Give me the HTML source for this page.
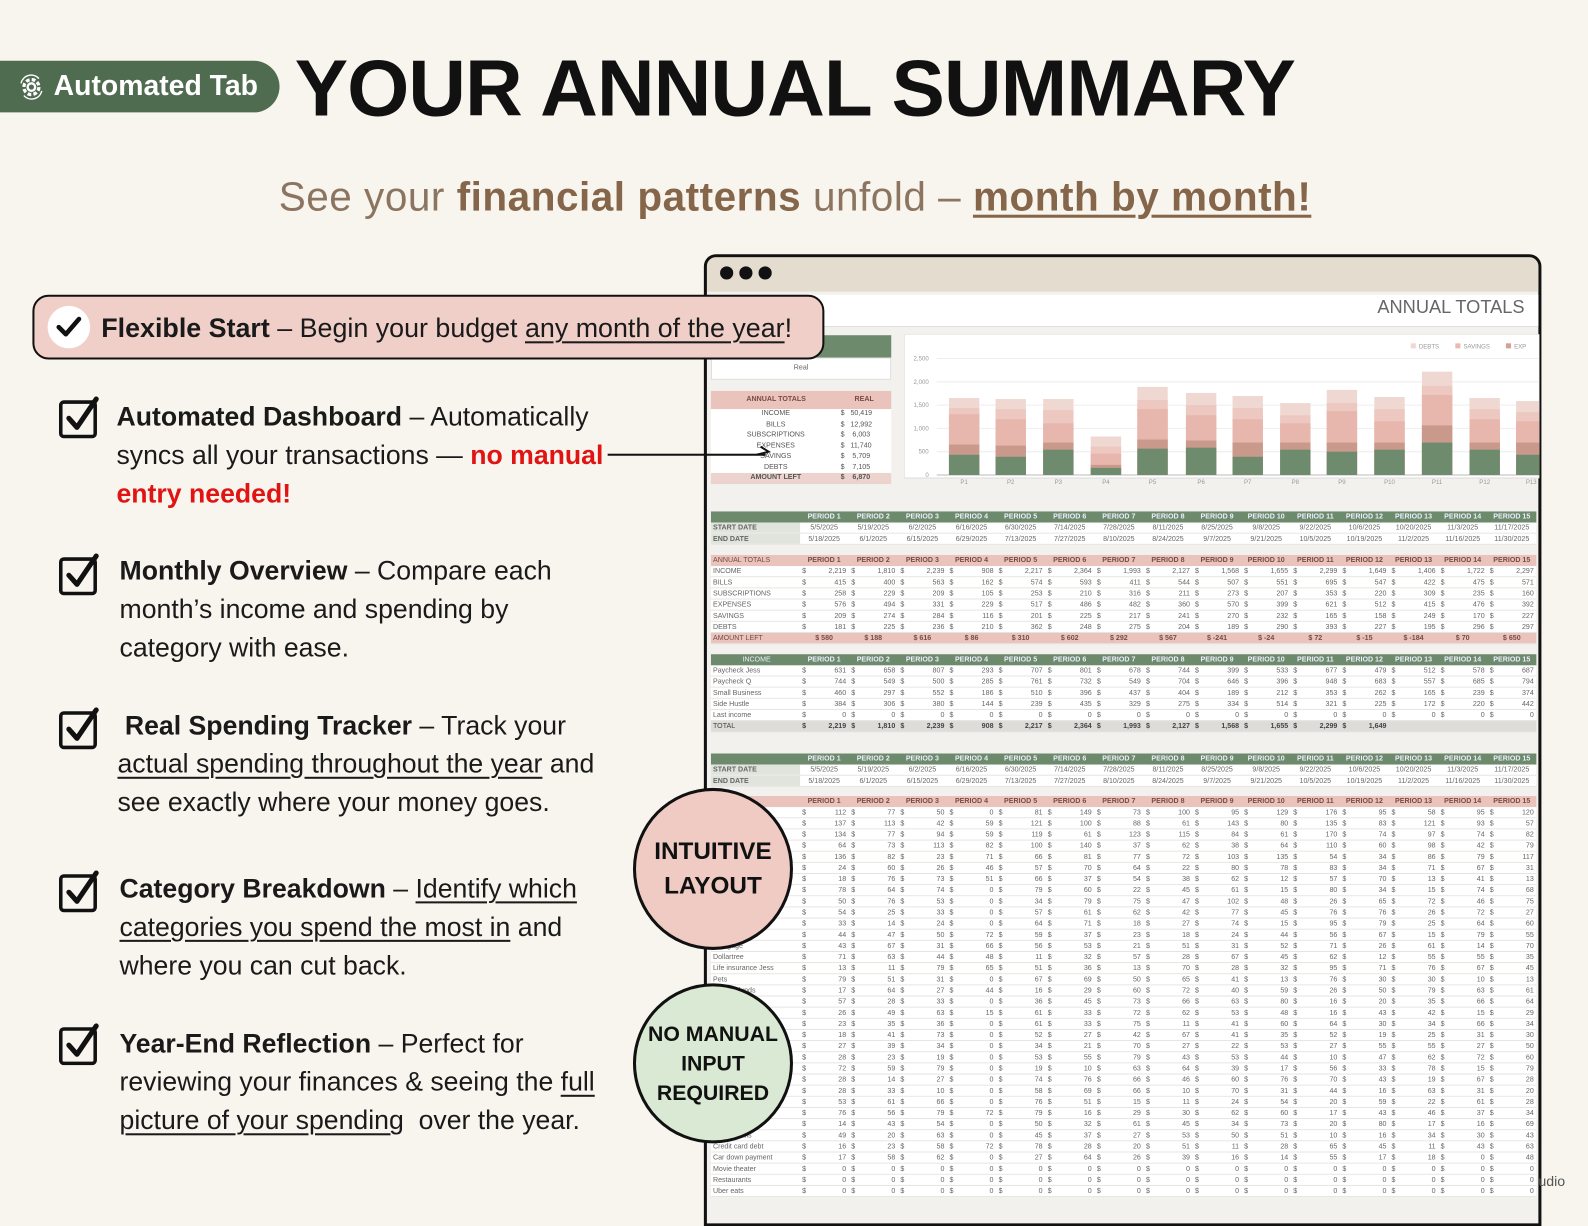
<!DOCTYPE html>
<html><head><meta charset="utf-8">
<style>
*{margin:0;padding:0;box-sizing:border-box}
body{width:1588px;height:1191px;overflow:hidden;background:#f8f5ee;font-family:"Liberation Sans",sans-serif;position:relative;color:#111}
#w{position:absolute;left:0;top:0;width:1568px;height:1176px;transform:scale(1.01276);transform-origin:0 0}
.a{position:absolute;white-space:nowrap}
.ft{font-size:26.3px;line-height:38px;color:#1a1a1a}
.ft b{font-weight:700}
.u{text-decoration:underline;text-decoration-thickness:2px;text-underline-offset:4px}
.row{position:absolute;left:702px;width:815px;height:11px;display:flex;font-size:7px;line-height:11px;color:#666;border-bottom:1px solid #e6e4e0;background:#fff}
.row b{width:88px;font-weight:400;padding-left:2px;overflow:hidden;flex:none}
.row span{width:48.5px;flex:none;display:flex;justify-content:space-between;padding:0 3px 0 2px}
.row span:before{content:"$"}
.row.d span{justify-content:center}
.row.d span:before{content:""}
.row.g{background:#6d8a6c;color:#eef;font-weight:700;border:none}
.row.g span,.row.p span,.row.h span{justify-content:center}
.row.g span:before,.row.p span:before,.row.h span:before{content:""}
.row.p{background:#e9c3bc;color:#7a4b43;font-weight:700;border:none}
.row.h{background:#e9c3bc;color:#7a4b43;font-weight:700}
.row.t{background:#dcdcd8;font-weight:700;color:#444}
.row.l b{background:#dfe4dc;font-weight:700}
.chk{position:absolute;width:40px;height:42px}
</style></head><body><div id="w">

<!-- badge + title -->
<div class="a" style="left:0;top:60px;width:276px;height:51px;background:#4f6b50;border-radius:0 26px 26px 0"></div>
<svg class="a" style="left:18px;top:73px" width="26" height="26" viewBox="0 0 28 28"><circle cx="14" cy="14" r="8" fill="none" stroke="#fff" stroke-width="3.5" stroke-dasharray="4 2.3"/><circle cx="14" cy="14" r="4" fill="none" stroke="#fff" stroke-width="2.5"/><path d="M3 10 A11 11 0 0 1 22 5 M25 18 A11 11 0 0 1 6 23" fill="none" stroke="#fff" stroke-width="1.5"/></svg>
<div class="a" style="left:53px;top:69px;font-size:28px;font-weight:700;color:#fff">Automated Tab</div>
<div class="a" style="left:291px;top:41px;font-size:79px;font-weight:700;color:#111;letter-spacing:-1px">YOUR ANNUAL SUMMARY</div>

<div class="a" style="left:200px;top:173px;width:1170px;text-align:center;font-size:40px;letter-spacing:0.5px;color:#8c7560">See your <b style="color:#85664a">financial patterns</b> unfold – <b class="u" style="color:#85664a;text-decoration-thickness:3px">month by month!</b></div>

<!-- window -->
<div class="a" style="left:695px;top:251px;width:827px;height:960px;border:3px solid #111;border-radius:12px 12px 0 0;background:#f3f1ed;overflow:hidden">
  <div style="height:34px;background:#e5dcd0"></div>
</div>
<div class="a" style="left:711px;top:263px;width:13px;height:13px;border-radius:50%;background:#111"></div>
<div class="a" style="left:730px;top:263px;width:13px;height:13px;border-radius:50%;background:#111"></div>
<div class="a" style="left:749px;top:263px;width:13px;height:13px;border-radius:50%;background:#111"></div>
<div class="a" style="left:702px;top:291px;width:817px;height:32px;background:#fff;border-bottom:1px solid #ddd"></div>
<div class="a" style="left:1360px;top:293px;font-size:18px;color:#666">ANNUAL TOTALS</div>

<!-- left mini table -->
<div class="a" style="left:702px;top:331px;width:178px;height:22px;background:#6d8a6c"></div>
<div class="a" style="left:702px;top:353px;width:178px;height:22px;background:#fff;border:1px solid #ddd;font-size:7px;color:#666;text-align:center;line-height:20px">Real</div>
<div class="a" style="left:702px;top:386px;width:178px;height:18px;background:#e9c3bc;font-size:7px;font-weight:700;color:#7a4b43;line-height:18px"><span style="margin-left:35px">ANNUAL TOTALS</span><span style="margin-left:48px">REAL</span></div>
<div class="a" style="left:702px;top:404px;width:178px;height:72px;background:#fff;font-size:7px;color:#555;line-height:10.5px">
<div style="display:flex"><span style="width:128px;text-align:center">INCOME</span><span style="width:50px">$&nbsp;&nbsp;&nbsp;50,419</span></div>
<div style="display:flex"><span style="width:128px;text-align:center">BILLS</span><span>$&nbsp;&nbsp;&nbsp;12,992</span></div>
<div style="display:flex"><span style="width:128px;text-align:center">SUBSCRIPTIONS</span><span>$&nbsp;&nbsp;&nbsp;&nbsp;6,003</span></div>
<div style="display:flex"><span style="width:128px;text-align:center">EXPENSES</span><span>$&nbsp;&nbsp;&nbsp;11,740</span></div>
<div style="display:flex"><span style="width:128px;text-align:center">SAVINGS</span><span>$&nbsp;&nbsp;&nbsp;&nbsp;5,709</span></div>
<div style="display:flex"><span style="width:128px;text-align:center">DEBTS</span><span>$&nbsp;&nbsp;&nbsp;&nbsp;7,105</span></div>
<div style="display:flex;background:#ecd3ce;font-weight:700"><span style="width:128px;text-align:center">AMOUNT LEFT</span><span>$&nbsp;&nbsp;&nbsp;&nbsp;6,870</span></div>
</div>

<!-- chart -->
<svg class="a" style="left:893px;top:330px" width="627" height="150" viewBox="893 330 627 150">
<rect x="893" y="330" width="627" height="142" fill="#fff" stroke="#ddd"/>
<g stroke="#eee"><line x1="925" x2="1520" y1="354" y2="354"/><line x1="925" x2="1520" y1="377" y2="377"/><line x1="925" x2="1520" y1="400" y2="400"/><line x1="925" x2="1520" y1="423" y2="423"/><line x1="925" x2="1520" y1="446" y2="446"/></g>
<line x1="925" x2="1520" y1="469" y2="469" stroke="#bbb"/>
<g font-size="6" fill="#999" text-anchor="end" font-family="Liberation Sans"><text x="917" y="356">2,500</text><text x="917" y="379">2,000</text><text x="917" y="402">1,500</text><text x="917" y="425">1,000</text><text x="917" y="448">500</text><text x="917" y="471">0</text></g>
<g font-size="6" fill="#999" font-family="Liberation Sans"><rect x="1393" y="339" width="5" height="5" fill="#f0d8d2"/><text x="1401" y="344">DEBTS</text><rect x="1437" y="339" width="5" height="5" fill="#eab9b0"/><text x="1445" y="344">SAVINGS</text><rect x="1487" y="339" width="5" height="5" fill="#d99f95"/><text x="1495" y="344">EXP</text></g>
<g font-family="Liberation Sans" font-size="6" fill="#999" text-anchor="middle">
<text x="952" y="478">P1</text><text x="998" y="478">P2</text><text x="1045" y="478">P3</text><text x="1092" y="478">P4</text><text x="1138" y="478">P5</text><text x="1186" y="478">P6</text><text x="1232" y="478">P7</text><text x="1279" y="478">P8</text><text x="1325" y="478">P9</text><text x="1372" y="478">P10</text><text x="1419" y="478">P11</text><text x="1466" y="478">P12</text><text x="1512" y="478">P13</text></g>
<g>
<rect x="937" y="393" width="30" height="76" fill="#f0d8d2"/><rect x="937" y="403" width="30" height="66" fill="#ecc8c1"/><rect x="937" y="409" width="30" height="60" fill="#e7b6ad"/><rect x="937" y="439" width="30" height="30" fill="#c99a8c"/><rect x="937" y="449" width="30" height="20" fill="#6f8b6e"/>
<rect x="983" y="394" width="30" height="75" fill="#f0d8d2"/><rect x="983" y="404" width="30" height="65" fill="#ecc8c1"/><rect x="983" y="414" width="30" height="55" fill="#e7b6ad"/><rect x="983" y="440" width="30" height="29" fill="#c99a8c"/><rect x="983" y="451" width="30" height="18" fill="#6f8b6e"/>
<rect x="1030" y="394" width="30" height="75" fill="#f0d8d2"/><rect x="1030" y="405" width="30" height="64" fill="#ecc8c1"/><rect x="1030" y="418" width="30" height="51" fill="#e7b6ad"/><rect x="1030" y="437" width="30" height="32" fill="#c99a8c"/><rect x="1030" y="444" width="30" height="25" fill="#6f8b6e"/>
<rect x="1077" y="431" width="30" height="38" fill="#f0d8d2"/><rect x="1077" y="441" width="30" height="28" fill="#ecc8c1"/><rect x="1077" y="448" width="30" height="21" fill="#e7b6ad"/><rect x="1077" y="459" width="30" height="10" fill="#c99a8c"/><rect x="1077" y="462" width="30" height="7" fill="#6f8b6e"/>
<rect x="1123" y="382" width="30" height="87" fill="#f0d8d2"/><rect x="1123" y="395" width="30" height="74" fill="#ecc8c1"/><rect x="1123" y="404" width="30" height="65" fill="#e7b6ad"/><rect x="1123" y="434" width="30" height="35" fill="#c99a8c"/><rect x="1123" y="443" width="30" height="26" fill="#6f8b6e"/>
<rect x="1171" y="388" width="30" height="81" fill="#f0d8d2"/><rect x="1171" y="400" width="30" height="69" fill="#ecc8c1"/><rect x="1171" y="410" width="30" height="59" fill="#e7b6ad"/><rect x="1171" y="435" width="30" height="34" fill="#c99a8c"/><rect x="1171" y="442" width="30" height="27" fill="#6f8b6e"/>
<rect x="1217" y="391" width="30" height="78" fill="#f0d8d2"/><rect x="1217" y="403" width="30" height="66" fill="#ecc8c1"/><rect x="1217" y="414" width="30" height="55" fill="#e7b6ad"/><rect x="1217" y="437" width="30" height="32" fill="#c99a8c"/><rect x="1217" y="451" width="30" height="18" fill="#6f8b6e"/>
<rect x="1264" y="398" width="30" height="71" fill="#f0d8d2"/><rect x="1264" y="410" width="30" height="59" fill="#ecc8c1"/><rect x="1264" y="418" width="30" height="51" fill="#e7b6ad"/><rect x="1264" y="437" width="30" height="32" fill="#c99a8c"/><rect x="1264" y="444" width="30" height="25" fill="#6f8b6e"/>
<rect x="1310" y="385" width="30" height="84" fill="#f0d8d2"/><rect x="1310" y="398" width="30" height="71" fill="#ecc8c1"/><rect x="1310" y="406" width="30" height="63" fill="#e7b6ad"/><rect x="1310" y="437" width="30" height="32" fill="#c99a8c"/><rect x="1310" y="446" width="30" height="23" fill="#6f8b6e"/>
<rect x="1357" y="392" width="30" height="77" fill="#f0d8d2"/><rect x="1357" y="404" width="30" height="65" fill="#ecc8c1"/><rect x="1357" y="416" width="30" height="53" fill="#e7b6ad"/><rect x="1357" y="437" width="30" height="32" fill="#c99a8c"/><rect x="1357" y="444" width="30" height="25" fill="#6f8b6e"/>
<rect x="1404" y="367" width="30" height="102" fill="#f0d8d2"/><rect x="1404" y="381" width="30" height="88" fill="#ecc8c1"/><rect x="1404" y="390" width="30" height="79" fill="#e7b6ad"/><rect x="1404" y="420" width="30" height="49" fill="#c99a8c"/><rect x="1404" y="437" width="30" height="32" fill="#6f8b6e"/>
<rect x="1451" y="393" width="30" height="76" fill="#f0d8d2"/><rect x="1451" y="404" width="30" height="65" fill="#ecc8c1"/><rect x="1451" y="414" width="30" height="55" fill="#e7b6ad"/><rect x="1451" y="437" width="30" height="32" fill="#c99a8c"/><rect x="1451" y="444" width="30" height="25" fill="#6f8b6e"/>
<rect x="1497" y="396" width="23" height="73" fill="#f0d8d2"/><rect x="1497" y="407" width="23" height="62" fill="#ecc8c1"/><rect x="1497" y="416" width="23" height="53" fill="#e7b6ad"/><rect x="1497" y="437" width="23" height="32" fill="#c99a8c"/><rect x="1497" y="449" width="23" height="20" fill="#6f8b6e"/>
</g></svg>

<!-- Section 1 -->
<div class="row g" style="top:505px"><b></b><span>PERIOD 1</span><span>PERIOD 2</span><span>PERIOD 3</span><span>PERIOD 4</span><span>PERIOD 5</span><span>PERIOD 6</span><span>PERIOD 7</span><span>PERIOD 8</span><span>PERIOD 9</span><span>PERIOD 10</span><span>PERIOD 11</span><span>PERIOD 12</span><span>PERIOD 13</span><span>PERIOD 14</span><span>PERIOD 15</span></div>
<div class="row d l" style="top:516px"><b>START DATE</b><span>5/5/2025</span><span>5/19/2025</span><span>6/2/2025</span><span>6/16/2025</span><span>6/30/2025</span><span>7/14/2025</span><span>7/28/2025</span><span>8/11/2025</span><span>8/25/2025</span><span>9/8/2025</span><span>9/22/2025</span><span>10/6/2025</span><span>10/20/2025</span><span>11/3/2025</span><span>11/17/2025</span></div>
<div class="row d l" style="top:527px"><b>END DATE</b><span>5/18/2025</span><span>6/1/2025</span><span>6/15/2025</span><span>6/29/2025</span><span>7/13/2025</span><span>7/27/2025</span><span>8/10/2025</span><span>8/24/2025</span><span>9/7/2025</span><span>9/21/2025</span><span>10/5/2025</span><span>10/19/2025</span><span>11/2/2025</span><span>11/16/2025</span><span>11/30/2025</span></div>

<!-- Section 2 -->
<div class="row p" style="top:548px"><b>ANNUAL TOTALS</b><span>PERIOD 1</span><span>PERIOD 2</span><span>PERIOD 3</span><span>PERIOD 4</span><span>PERIOD 5</span><span>PERIOD 6</span><span>PERIOD 7</span><span>PERIOD 8</span><span>PERIOD 9</span><span>PERIOD 10</span><span>PERIOD 11</span><span>PERIOD 12</span><span>PERIOD 13</span><span>PERIOD 14</span><span>PERIOD 15</span></div>
<div class="row" style="top:559px"><b>INCOME</b><span>2,219</span><span>1,810</span><span>2,239</span><span>908</span><span>2,217</span><span>2,364</span><span>1,993</span><span>2,127</span><span>1,568</span><span>1,655</span><span>2,299</span><span>1,649</span><span>1,406</span><span>1,722</span><span>2,297</span></div>
<div class="row" style="top:570px"><b>BILLS</b><span>415</span><span>400</span><span>563</span><span>162</span><span>574</span><span>593</span><span>411</span><span>544</span><span>507</span><span>551</span><span>695</span><span>547</span><span>422</span><span>475</span><span>571</span></div>
<div class="row" style="top:581px"><b>SUBSCRIPTIONS</b><span>258</span><span>229</span><span>209</span><span>105</span><span>253</span><span>210</span><span>316</span><span>211</span><span>273</span><span>207</span><span>353</span><span>220</span><span>309</span><span>235</span><span>160</span></div>
<div class="row" style="top:592px"><b>EXPENSES</b><span>576</span><span>494</span><span>331</span><span>229</span><span>517</span><span>486</span><span>482</span><span>360</span><span>570</span><span>399</span><span>621</span><span>512</span><span>415</span><span>476</span><span>392</span></div>
<div class="row" style="top:603px"><b>SAVINGS</b><span>209</span><span>274</span><span>284</span><span>116</span><span>201</span><span>225</span><span>217</span><span>241</span><span>270</span><span>232</span><span>165</span><span>158</span><span>249</span><span>170</span><span>227</span></div>
<div class="row" style="top:614px"><b>DEBTS</b><span>181</span><span>225</span><span>236</span><span>210</span><span>362</span><span>248</span><span>275</span><span>204</span><span>189</span><span>290</span><span>393</span><span>227</span><span>195</span><span>296</span><span>297</span></div>
<div class="row h" style="top:625px"><b>AMOUNT LEFT</b><span>$ 580</span><span>$ 188</span><span>$ 616</span><span>$ 86</span><span>$ 310</span><span>$ 602</span><span>$ 292</span><span>$ 567</span><span>$ -241</span><span>$ -24</span><span>$ 72</span><span>$ -15</span><span>$ -184</span><span>$ 70</span><span>$ 650</span></div>

<!-- Section 3 -->
<div class="row g" style="top:646px"><b style="text-align:center">INCOME</b><span>PERIOD 1</span><span>PERIOD 2</span><span>PERIOD 3</span><span>PERIOD 4</span><span>PERIOD 5</span><span>PERIOD 6</span><span>PERIOD 7</span><span>PERIOD 8</span><span>PERIOD 9</span><span>PERIOD 10</span><span>PERIOD 11</span><span>PERIOD 12</span><span>PERIOD 13</span><span>PERIOD 14</span><span>PERIOD 15</span></div>
<div class="row" style="top:657px"><b>Paycheck Jess</b><span>631</span><span>658</span><span>807</span><span>293</span><span>707</span><span>801</span><span>678</span><span>744</span><span>399</span><span>533</span><span>677</span><span>479</span><span>512</span><span>578</span><span>687</span></div>
<div class="row" style="top:668px"><b>Paycheck Q</b><span>744</span><span>549</span><span>500</span><span>285</span><span>761</span><span>732</span><span>549</span><span>704</span><span>646</span><span>396</span><span>948</span><span>683</span><span>557</span><span>685</span><span>794</span></div>
<div class="row" style="top:679px"><b>Small Business</b><span>460</span><span>297</span><span>552</span><span>186</span><span>510</span><span>396</span><span>437</span><span>404</span><span>189</span><span>212</span><span>353</span><span>262</span><span>165</span><span>239</span><span>374</span></div>
<div class="row" style="top:690px"><b>Side Hustle</b><span>384</span><span>306</span><span>380</span><span>144</span><span>239</span><span>435</span><span>329</span><span>275</span><span>334</span><span>514</span><span>321</span><span>225</span><span>172</span><span>220</span><span>442</span></div>
<div class="row" style="top:701px"><b>Last income</b><span>0</span><span>0</span><span>0</span><span>0</span><span>0</span><span>0</span><span>0</span><span>0</span><span>0</span><span>0</span><span>0</span><span>0</span><span>0</span><span>0</span><span>0</span></div>
<div class="row t" style="top:712px"><b>TOTAL</b><span>2,219</span><span>1,810</span><span>2,239</span><span>908</span><span>2,217</span><span>2,364</span><span>1,993</span><span>2,127</span><span>1,568</span><span>1,655</span><span>2,299</span><span>1,649</span></div>

<!-- Section 4 -->
<div class="row g" style="top:744px"><b></b><span>PERIOD 1</span><span>PERIOD 2</span><span>PERIOD 3</span><span>PERIOD 4</span><span>PERIOD 5</span><span>PERIOD 6</span><span>PERIOD 7</span><span>PERIOD 8</span><span>PERIOD 9</span><span>PERIOD 10</span><span>PERIOD 11</span><span>PERIOD 12</span><span>PERIOD 13</span><span>PERIOD 14</span><span>PERIOD 15</span></div>
<div class="row d l" style="top:755px"><b>START DATE</b><span>5/5/2025</span><span>5/19/2025</span><span>6/2/2025</span><span>6/16/2025</span><span>6/30/2025</span><span>7/14/2025</span><span>7/28/2025</span><span>8/11/2025</span><span>8/25/2025</span><span>9/8/2025</span><span>9/22/2025</span><span>10/6/2025</span><span>10/20/2025</span><span>11/3/2025</span><span>11/17/2025</span></div>
<div class="row d l" style="top:766px"><b>END DATE</b><span>5/18/2025</span><span>6/1/2025</span><span>6/15/2025</span><span>6/29/2025</span><span>7/13/2025</span><span>7/27/2025</span><span>8/10/2025</span><span>8/24/2025</span><span>9/7/2025</span><span>9/21/2025</span><span>10/5/2025</span><span>10/19/2025</span><span>11/2/2025</span><span>11/16/2025</span><span>11/30/2025</span></div>

<!-- Section 5 expenses -->
<div class="row p" style="top:786px"><b>EXPENSES</b><span>PERIOD 1</span><span>PERIOD 2</span><span>PERIOD 3</span><span>PERIOD 4</span><span>PERIOD 5</span><span>PERIOD 6</span><span>PERIOD 7</span><span>PERIOD 8</span><span>PERIOD 9</span><span>PERIOD 10</span><span>PERIOD 11</span><span>PERIOD 12</span><span>PERIOD 13</span><span>PERIOD 14</span><span>PERIOD 15</span></div>
<div class="row" style="top:797px"><b>Groceries</b><span>112</span><span>77</span><span>50</span><span>0</span><span>81</span><span>149</span><span>73</span><span>100</span><span>95</span><span>129</span><span>176</span><span>95</span><span>58</span><span>95</span><span>120</span></div>
<div class="row" style="top:808px"><b>Gas</b><span>137</span><span>113</span><span>42</span><span>59</span><span>121</span><span>100</span><span>88</span><span>61</span><span>143</span><span>80</span><span>135</span><span>83</span><span>121</span><span>93</span><span>57</span></div>
<div class="row" style="top:819px"><b>Dining</b><span>134</span><span>77</span><span>94</span><span>59</span><span>119</span><span>61</span><span>123</span><span>115</span><span>84</span><span>61</span><span>170</span><span>74</span><span>97</span><span>74</span><span>82</span></div>
<div class="row" style="top:830px"><b>Shopping</b><span>64</span><span>73</span><span>113</span><span>82</span><span>100</span><span>140</span><span>37</span><span>62</span><span>38</span><span>64</span><span>110</span><span>60</span><span>98</span><span>42</span><span>79</span></div>
<div class="row" style="top:841px"><b>Coffee</b><span>136</span><span>82</span><span>23</span><span>71</span><span>66</span><span>81</span><span>77</span><span>72</span><span>103</span><span>135</span><span>54</span><span>34</span><span>86</span><span>79</span><span>117</span></div>
<div class="row" style="top:852px"><b>Household</b><span>24</span><span>60</span><span>26</span><span>46</span><span>57</span><span>70</span><span>64</span><span>22</span><span>80</span><span>78</span><span>83</span><span>34</span><span>71</span><span>67</span><span>31</span></div>
<div class="row" style="top:863px"><b>Clothing</b><span>18</span><span>76</span><span>73</span><span>51</span><span>66</span><span>37</span><span>54</span><span>38</span><span>62</span><span>12</span><span>57</span><span>70</span><span>13</span><span>41</span><span>13</span></div>
<div class="row" style="top:874px"><b>Beauty</b><span>78</span><span>64</span><span>74</span><span>0</span><span>79</span><span>60</span><span>22</span><span>45</span><span>61</span><span>15</span><span>80</span><span>34</span><span>15</span><span>74</span><span>68</span></div>
<div class="row" style="top:885px"><b>Gifts</b><span>50</span><span>76</span><span>53</span><span>0</span><span>34</span><span>79</span><span>75</span><span>47</span><span>102</span><span>48</span><span>26</span><span>65</span><span>72</span><span>46</span><span>75</span></div>
<div class="row" style="top:896px"><b>Kids</b><span>54</span><span>25</span><span>33</span><span>0</span><span>57</span><span>61</span><span>62</span><span>42</span><span>77</span><span>45</span><span>76</span><span>76</span><span>26</span><span>72</span><span>27</span></div>
<div class="row" style="top:907px"><b>Health</b><span>33</span><span>14</span><span>24</span><span>0</span><span>64</span><span>71</span><span>18</span><span>27</span><span>74</span><span>15</span><span>95</span><span>79</span><span>25</span><span>64</span><span>60</span></div>
<div class="row" style="top:918px"><b>Car</b><span>44</span><span>47</span><span>50</span><span>72</span><span>59</span><span>37</span><span>23</span><span>18</span><span>24</span><span>44</span><span>56</span><span>67</span><span>15</span><span>79</span><span>55</span></div>
<div class="row" style="top:929px"><b>Mortgage</b><span>43</span><span>67</span><span>31</span><span>66</span><span>56</span><span>53</span><span>21</span><span>51</span><span>31</span><span>52</span><span>71</span><span>26</span><span>61</span><span>14</span><span>70</span></div>
<div class="row" style="top:940px"><b>Dollartree</b><span>71</span><span>63</span><span>44</span><span>48</span><span>11</span><span>32</span><span>57</span><span>28</span><span>67</span><span>45</span><span>62</span><span>12</span><span>55</span><span>55</span><span>35</span></div>
<div class="row" style="top:951px"><b>Life insurance Jess</b><span>13</span><span>11</span><span>79</span><span>65</span><span>51</span><span>36</span><span>13</span><span>70</span><span>28</span><span>32</span><span>95</span><span>71</span><span>76</span><span>67</span><span>45</span></div>
<div class="row" style="top:962px"><b>Pets</b><span>79</span><span>51</span><span>31</span><span>0</span><span>67</span><span>69</span><span>50</span><span>65</span><span>41</span><span>13</span><span>76</span><span>30</span><span>30</span><span>10</span><span>13</span></div>
<div class="row" style="top:973px"><b>Sinking funds</b><span>17</span><span>64</span><span>27</span><span>44</span><span>16</span><span>29</span><span>60</span><span>72</span><span>40</span><span>59</span><span>26</span><span>50</span><span>79</span><span>63</span><span>61</span></div>
<div class="row" style="top:984px"><b>Internet</b><span>57</span><span>28</span><span>33</span><span>0</span><span>36</span><span>45</span><span>73</span><span>66</span><span>63</span><span>80</span><span>16</span><span>20</span><span>35</span><span>66</span><span>64</span></div>
<div class="row" style="top:995px"><b>Phone</b><span>26</span><span>49</span><span>63</span><span>15</span><span>61</span><span>33</span><span>72</span><span>62</span><span>53</span><span>48</span><span>16</span><span>43</span><span>42</span><span>15</span><span>29</span></div>
<div class="row" style="top:1006px"><b>Electric</b><span>23</span><span>35</span><span>36</span><span>0</span><span>61</span><span>33</span><span>75</span><span>11</span><span>41</span><span>60</span><span>64</span><span>30</span><span>34</span><span>66</span><span>34</span></div>
<div class="row" style="top:1017px"><b>Water</b><span>18</span><span>41</span><span>73</span><span>0</span><span>52</span><span>27</span><span>42</span><span>67</span><span>41</span><span>35</span><span>52</span><span>19</span><span>25</span><span>31</span><span>30</span></div>
<div class="row" style="top:1028px"><b>Streaming</b><span>27</span><span>39</span><span>34</span><span>0</span><span>34</span><span>21</span><span>70</span><span>27</span><span>22</span><span>53</span><span>27</span><span>55</span><span>55</span><span>27</span><span>50</span></div>
<div class="row" style="top:1039px"><b>Gym</b><span>28</span><span>23</span><span>19</span><span>0</span><span>53</span><span>55</span><span>79</span><span>43</span><span>53</span><span>44</span><span>10</span><span>47</span><span>62</span><span>72</span><span>60</span></div>
<div class="row" style="top:1050px"><b>Insurance</b><span>72</span><span>59</span><span>79</span><span>0</span><span>19</span><span>10</span><span>63</span><span>64</span><span>39</span><span>17</span><span>56</span><span>33</span><span>78</span><span>15</span><span>79</span></div>
<div class="row" style="top:1061px"><b>Savings</b><span>28</span><span>14</span><span>27</span><span>0</span><span>74</span><span>76</span><span>66</span><span>46</span><span>60</span><span>76</span><span>70</span><span>43</span><span>19</span><span>67</span><span>28</span></div>
<div class="row" style="top:1072px"><b>Vacation</b><span>28</span><span>33</span><span>10</span><span>0</span><span>58</span><span>69</span><span>66</span><span>10</span><span>70</span><span>31</span><span>44</span><span>16</span><span>63</span><span>31</span><span>20</span></div>
<div class="row" style="top:1083px"><b>Emergency</b><span>53</span><span>61</span><span>66</span><span>0</span><span>76</span><span>51</span><span>15</span><span>11</span><span>24</span><span>54</span><span>20</span><span>59</span><span>22</span><span>61</span><span>28</span></div>
<div class="row" style="top:1094px"><b>Retirement</b><span>76</span><span>56</span><span>79</span><span>72</span><span>79</span><span>16</span><span>29</span><span>30</span><span>62</span><span>60</span><span>17</span><span>43</span><span>46</span><span>37</span><span>34</span></div>
<div class="row" style="top:1105px"><b>Student loan</b><span>14</span><span>43</span><span>54</span><span>0</span><span>50</span><span>32</span><span>61</span><span>45</span><span>34</span><span>73</span><span>20</span><span>80</span><span>17</span><span>16</span><span>69</span></div>
<div class="row" style="top:1116px"><b>Medical bills</b><span>49</span><span>20</span><span>63</span><span>0</span><span>45</span><span>37</span><span>27</span><span>53</span><span>50</span><span>51</span><span>10</span><span>16</span><span>34</span><span>30</span><span>43</span></div>
<div class="row" style="top:1127px"><b>Credit card debt</b><span>16</span><span>23</span><span>58</span><span>72</span><span>78</span><span>28</span><span>20</span><span>51</span><span>11</span><span>28</span><span>65</span><span>45</span><span>11</span><span>43</span><span>63</span></div>
<div class="row" style="top:1138px"><b>Car down payment</b><span>17</span><span>58</span><span>62</span><span>0</span><span>27</span><span>64</span><span>26</span><span>39</span><span>16</span><span>14</span><span>55</span><span>17</span><span>18</span><span>0</span><span>48</span></div>
<div class="row" style="top:1149px"><b>Movie theater</b><span>0</span><span>0</span><span>0</span><span>0</span><span>0</span><span>0</span><span>0</span><span>0</span><span>0</span><span>0</span><span>0</span><span>0</span><span>0</span><span>0</span><span>0</span></div>
<div class="row" style="top:1160px"><b>Restaurants</b><span>0</span><span>0</span><span>0</span><span>0</span><span>0</span><span>0</span><span>0</span><span>0</span><span>0</span><span>0</span><span>0</span><span>0</span><span>0</span><span>0</span><span>0</span></div>
<div class="row" style="top:1171px"><b>Uber eats</b><span>0</span><span>0</span><span>0</span><span>0</span><span>0</span><span>0</span><span>0</span><span>0</span><span>0</span><span>0</span><span>0</span><span>0</span><span>0</span><span>0</span><span>0</span></div>
<div class="a" style="left:1519px;top:1158px;font-size:14px;color:#555">udio</div>

<!-- Flexible Start pill -->
<div class="a" style="left:32px;top:291px;width:782px;height:64px;background:#f0cfc9;border:2.5px solid #111;border-radius:16px"></div>
<div class="a" style="left:47px;top:302px;width:42px;height:42px;border-radius:50%;background:#fff"></div>
<svg class="a" style="left:54px;top:310px" width="28" height="26"><path d="M4 13 L11 20 L24 5" fill="none" stroke="#111" stroke-width="4.5" stroke-linecap="round" stroke-linejoin="round"/></svg>
<div class="a ft" style="left:100px;top:305px;font-size:26.5px"><b>Flexible Start</b> – Begin your budget <span class="u">any month of the year</span>!</div>

<!-- checkboxes -->
<svg class="chk" style="left:58px;top:391px" viewBox="0 0 40 42"><rect x="2" y="6" width="34" height="34" rx="3" fill="none" stroke="#111" stroke-width="3.5"/><path d="M10 22 L18 31 L37 3" fill="none" stroke="#111" stroke-width="5" stroke-linecap="round" stroke-linejoin="round"/></svg>
<svg class="chk" style="left:58px;top:546px" viewBox="0 0 40 42"><rect x="2" y="6" width="34" height="34" rx="3" fill="none" stroke="#111" stroke-width="3.5"/><path d="M10 22 L18 31 L37 3" fill="none" stroke="#111" stroke-width="5" stroke-linecap="round" stroke-linejoin="round"/></svg>
<svg class="chk" style="left:58px;top:698px" viewBox="0 0 40 42"><rect x="2" y="6" width="34" height="34" rx="3" fill="none" stroke="#111" stroke-width="3.5"/><path d="M10 22 L18 31 L37 3" fill="none" stroke="#111" stroke-width="5" stroke-linecap="round" stroke-linejoin="round"/></svg>
<svg class="chk" style="left:58px;top:859px" viewBox="0 0 40 42"><rect x="2" y="6" width="34" height="34" rx="3" fill="none" stroke="#111" stroke-width="3.5"/><path d="M10 22 L18 31 L37 3" fill="none" stroke="#111" stroke-width="5" stroke-linecap="round" stroke-linejoin="round"/></svg>
<svg class="chk" style="left:58px;top:1010px" viewBox="0 0 40 42"><rect x="2" y="6" width="34" height="34" rx="3" fill="none" stroke="#111" stroke-width="3.5"/><path d="M10 22 L18 31 L37 3" fill="none" stroke="#111" stroke-width="5" stroke-linecap="round" stroke-linejoin="round"/></svg>

<div class="a ft" style="left:115px;top:392px"><b>Automated Dashboard</b> – Automatically<br>syncs all your transactions — <b style="color:#e11414">no manual</b><br><b style="color:#e11414">entry needed!</b></div>
<div class="a" style="left:600px;top:448px;width:156px;height:2px;background:#111"></div>
<svg class="a" style="left:745px;top:440px" width="16" height="16"><path d="M2 9 L14 6 L6 1" fill="none" stroke="#111" stroke-width="2"/></svg>

<div class="a ft" style="left:118px;top:544px"><b>Monthly Overview</b> – Compare each<br>month’s income and spending by<br>category with ease.</div>
<div class="a ft" style="left:116px;top:697px">&nbsp;<b>Real Spending Tracker</b> – Track your<br><span class="u">actual spending throughout the year</span> and<br>see exactly where your money goes.</div>
<div class="a ft" style="left:118px;top:858px"><b>Category Breakdown</b> – <span class="u">Identify which</span><br><span class="u">categories you spend the most in</span> and<br>where you can cut back.</div>
<div class="a ft" style="left:118px;top:1011px"><b>Year-End Reflection</b> – Perfect for<br>reviewing your finances &amp; seeing the <span class="u">full</span><br><span class="u">picture of your spending</span>&nbsp; over the year.</div>

<!-- circles -->
<div class="a" style="left:625px;top:778px;width:158px;height:160px;border-radius:50%;background:#efcbc4;border:3px solid #111;display:flex;align-items:center;justify-content:center;text-align:center;font-size:24px;font-weight:700;line-height:34px">INTUITIVE<br>LAYOUT</div>
<div class="a" style="left:625px;top:971px;width:158px;height:158px;border-radius:50%;background:#d9e9d4;border:3px solid #111;display:flex;align-items:center;justify-content:center;text-align:center;font-size:21px;font-weight:700;line-height:29px">NO MANUAL<br>INPUT<br>REQUIRED</div>
</div></body></html>
